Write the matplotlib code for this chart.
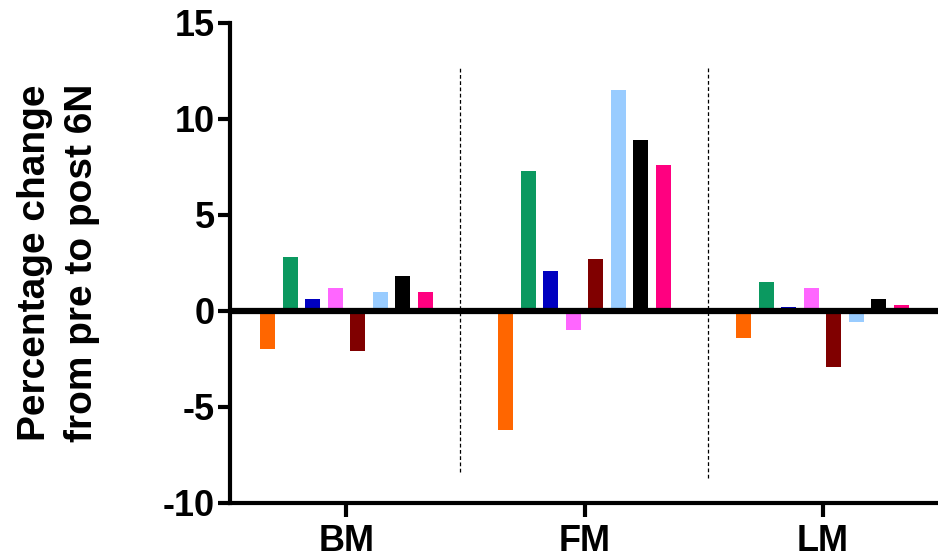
import numpy as np
import matplotlib.pyplot as plt

plt.rcParams['font.family'] = ['Liberation Sans', 'DejaVu Sans']
plt.rcParams['font.weight'] = 'bold'

groups = ['BM', 'FM', 'LM']
colors = ['#FF6600', '#0B9960', '#0000C0', '#FF66FF', '#800000', '#99CCFF', '#000000', '#FF0080']
# one list per group, eight measures each
bm = [-2.0, 2.8, 0.6, 1.2, -2.1, 1.0, 1.8, 1.0]
fm = [-6.2, 7.3, 2.1, -1.0, 2.7, 11.5, 8.9, 7.6]
lm = [-1.4, 1.5, 0.2, 1.2, -2.9, -0.6, 0.6, 0.3]
values = np.array([bm, fm, lm])

fig = plt.figure(figsize=(9.38, 5.57), dpi=100)
ax = fig.add_axes([0.245, 0.097, 0.755, 0.862])

step = 0.0945
width = 0.062
x = np.arange(len(groups))
for i, c in enumerate(colors):
    offs = (i - 3.5) * step
    ax.bar(x + offs, values[:, i], width=width, color=c, zorder=2)

ax.axhline(0, color='black', lw=4.5, zorder=3)

# dashed separators between groups
ax.plot([0.475, 0.475], [-8.4, 12.7], color='black', lw=0.9, ls=(0, (3, 2)), zorder=1)
ax.plot([1.517, 1.517], [-8.7, 12.7], color='black', lw=0.9, ls=(0, (3, 2)), zorder=1)

ax.set_xlim(-0.49, 2.485)
ax.set_ylim(-10, 15)
ax.set_yticks([-10, -5, 0, 5, 10, 15])
ax.set_yticklabels(['-10', '-5', '0', '5', '10', '15'])
ax.set_xticks(x)
ax.set_xticklabels(groups)

for s in ['top', 'right']:
    ax.spines[s].set_visible(False)
for s in ['left', 'bottom']:
    ax.spines[s].set_linewidth(3)

ax.tick_params(axis='y', length=9, width=3, labelsize=26, pad=2)
ax.tick_params(axis='x', length=10, width=3, labelsize=26, pad=5)

ax.set_ylabel('Percentage change\nfrom pre to post 6N', fontsize=28, fontweight='bold',
              linespacing=1.4)
ax.yaxis.set_label_coords(-0.183, 0.5)

fig.savefig('out.png', dpi=100)
